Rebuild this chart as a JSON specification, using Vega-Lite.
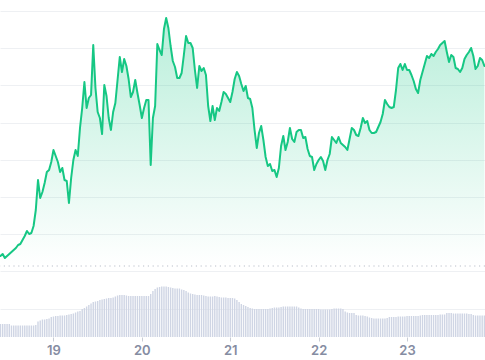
{
  "$schema": "https://vega.github.io/schema/vega-lite/v6.json",
  "width": 485,
  "height": 337,
  "padding": {"left": 0, "top": 0, "right": 0, "bottom": 23},
  "autosize": {"type": "none"},
  "background": "#ffffff",
  "config": {
    "view": {"stroke": null},
    "axisX": {
      "domain": false, "grid": false,
      "tickColor": "#c8ccd4", "tickSize": 4,
      "labelFont": "Inter", "labelFontSize": 13, "labelFontWeight": 600,
      "labelColor": "#858ca2", "labelPadding": 3
    },
    "axisY": {
      "labels": false, "ticks": false, "domain": false,
      "grid": true, "gridColor": "#eef0f3", "gridWidth": 1
    }
  },
  "data": {"values": [
    {"t":18.4,"p":81,"v":13},{"t":18.425,"p":83,"v":13},{"t":18.45,"p":79,"v":13},{"t":18.475,"p":81,"v":13},
    {"t":18.5,"p":83,"v":13},{"t":18.525,"p":85,"v":11.5},{"t":18.55,"p":87,"v":11.5},{"t":18.575,"p":89,"v":11.5},
    {"t":18.6,"p":92,"v":11.5},{"t":18.625,"p":93,"v":11.5},{"t":18.65,"p":97,"v":11.5},{"t":18.675,"p":101,"v":11.5},
    {"t":18.7,"p":106,"v":11.5},{"t":18.725,"p":103,"v":11.5},{"t":18.75,"p":104,"v":11.5},{"t":18.775,"p":111,"v":11.5},
    {"t":18.8,"p":127,"v":12},{"t":18.825,"p":157,"v":15.5},{"t":18.85,"p":139,"v":16.5},{"t":18.875,"p":145,"v":17.5},
    {"t":18.9,"p":154,"v":17.5},{"t":18.925,"p":165,"v":18},{"t":18.95,"p":167,"v":18.5},{"t":18.975,"p":175,"v":20},
    {"t":19.0,"p":187,"v":20.5},{"t":19.025,"p":181,"v":21},{"t":19.05,"p":175,"v":21},{"t":19.075,"p":165,"v":21.5},
    {"t":19.1,"p":169,"v":21.5},{"t":19.125,"p":157,"v":21.5},{"t":19.15,"p":156,"v":22},{"t":19.175,"p":134,"v":22.5},
    {"t":19.2,"p":159,"v":23},{"t":19.225,"p":177,"v":23.5},{"t":19.25,"p":187,"v":24.5},{"t":19.275,"p":181,"v":25.5},
    {"t":19.3,"p":209,"v":26},{"t":19.325,"p":229,"v":28},{"t":19.35,"p":255,"v":29},{"t":19.375,"p":229,"v":30.5},
    {"t":19.4,"p":239,"v":32},{"t":19.425,"p":242,"v":33.5},{"t":19.45,"p":292,"v":35},{"t":19.475,"p":249,"v":35.5},
    {"t":19.5,"p":225,"v":36},{"t":19.525,"p":219,"v":37},{"t":19.55,"p":203,"v":37.5},{"t":19.575,"p":252,"v":38},
    {"t":19.6,"p":241,"v":38.5},{"t":19.625,"p":219,"v":39},{"t":19.65,"p":207,"v":39},{"t":19.675,"p":225,"v":39.5},
    {"t":19.7,"p":234,"v":40.5},{"t":19.725,"p":257,"v":41.5},{"t":19.75,"p":280,"v":42},{"t":19.775,"p":265,"v":42},
    {"t":19.8,"p":278,"v":42},{"t":19.825,"p":271,"v":41.5},{"t":19.85,"p":258,"v":41},{"t":19.875,"p":240,"v":41},
    {"t":19.9,"p":245,"v":41},{"t":19.925,"p":257,"v":41},{"t":19.95,"p":244,"v":41},{"t":19.975,"p":232,"v":41},
    {"t":20.0,"p":219,"v":41},{"t":20.025,"p":229,"v":41},{"t":20.05,"p":237,"v":41},{"t":20.075,"p":237,"v":41},
    {"t":20.1,"p":172,"v":43},{"t":20.125,"p":219,"v":46},{"t":20.15,"p":231,"v":48},{"t":20.175,"p":293,"v":49.5},
    {"t":20.2,"p":287,"v":50},{"t":20.225,"p":282,"v":50.5},{"t":20.25,"p":308,"v":50.5},{"t":20.275,"p":319,"v":50.5},
    {"t":20.3,"p":309,"v":50},{"t":20.325,"p":291,"v":49.5},{"t":20.35,"p":276,"v":49},{"t":20.375,"p":270,"v":48.5},
    {"t":20.4,"p":259,"v":48.5},{"t":20.425,"p":259,"v":48.5},{"t":20.45,"p":264,"v":47.5},{"t":20.475,"p":282,"v":47},
    {"t":20.5,"p":301,"v":46},{"t":20.525,"p":294,"v":44.5},{"t":20.55,"p":294,"v":43.5},{"t":20.575,"p":289,"v":43},
    {"t":20.6,"p":267,"v":42.5},{"t":20.625,"p":249,"v":42},{"t":20.65,"p":271,"v":42},{"t":20.675,"p":266,"v":42},
    {"t":20.7,"p":269,"v":41.5},{"t":20.725,"p":262,"v":41},{"t":20.75,"p":231,"v":40.5},{"t":20.775,"p":216,"v":40.5},
    {"t":20.8,"p":231,"v":40.5},{"t":20.825,"p":217,"v":41},{"t":20.85,"p":229,"v":40.5},{"t":20.875,"p":226,"v":40},
    {"t":20.9,"p":235,"v":39.5},{"t":20.925,"p":245,"v":39.5},{"t":20.95,"p":243,"v":39.5},{"t":20.975,"p":239,"v":39},
    {"t":21.0,"p":235,"v":39},{"t":21.025,"p":245,"v":39},{"t":21.05,"p":258,"v":38.5},{"t":21.075,"p":265,"v":37},
    {"t":21.1,"p":261,"v":35},{"t":21.125,"p":253,"v":33},{"t":21.15,"p":246,"v":32},{"t":21.175,"p":251,"v":31},
    {"t":21.2,"p":239,"v":30},{"t":21.225,"p":238,"v":29},{"t":21.25,"p":229,"v":28.5},{"t":21.275,"p":207,"v":28},
    {"t":21.3,"p":189,"v":28},{"t":21.325,"p":204,"v":28},{"t":21.35,"p":211,"v":28},{"t":21.375,"p":197,"v":28},
    {"t":21.4,"p":180,"v":28},{"t":21.425,"p":171,"v":28},{"t":21.45,"p":173,"v":28.5},{"t":21.475,"p":166,"v":29},
    {"t":21.5,"p":167,"v":29.5},{"t":21.525,"p":160,"v":29.5},{"t":21.55,"p":169,"v":29.5},{"t":21.575,"p":191,"v":30},
    {"t":21.6,"p":201,"v":30.5},{"t":21.625,"p":187,"v":30.5},{"t":21.65,"p":195,"v":30.5},{"t":21.675,"p":209,"v":30.5},
    {"t":21.7,"p":198,"v":30.5},{"t":21.725,"p":195,"v":30.5},{"t":21.75,"p":205,"v":30.5},{"t":21.775,"p":207,"v":29.5},
    {"t":21.8,"p":207,"v":28.5},{"t":21.825,"p":199,"v":28},{"t":21.85,"p":200,"v":28},{"t":21.875,"p":188,"v":28},
    {"t":21.9,"p":181,"v":28},{"t":21.925,"p":180,"v":28},{"t":21.95,"p":167,"v":28},{"t":21.975,"p":173,"v":28},
    {"t":22.0,"p":177,"v":28},{"t":22.025,"p":180,"v":27.5},{"t":22.05,"p":176,"v":27.5},{"t":22.075,"p":167,"v":27.5},
    {"t":22.1,"p":177,"v":27.5},{"t":22.125,"p":183,"v":27.5},{"t":22.15,"p":200,"v":28},{"t":22.175,"p":197,"v":28.5},
    {"t":22.2,"p":194,"v":28.5},{"t":22.225,"p":200,"v":28.5},{"t":22.25,"p":194,"v":28.5},{"t":22.275,"p":192,"v":28},
    {"t":22.3,"p":190,"v":25.5},{"t":22.325,"p":187,"v":24.5},{"t":22.35,"p":198,"v":24},{"t":22.375,"p":209,"v":24},
    {"t":22.4,"p":207,"v":24},{"t":22.425,"p":202,"v":22},{"t":22.45,"p":201,"v":21.5},{"t":22.475,"p":209,"v":21.5},
    {"t":22.5,"p":219,"v":21.5},{"t":22.525,"p":214,"v":21},{"t":22.55,"p":216,"v":20.5},{"t":22.575,"p":207,"v":19.5},
    {"t":22.6,"p":204,"v":19},{"t":22.625,"p":204,"v":18.5},{"t":22.65,"p":205,"v":18.5},{"t":22.675,"p":210,"v":18.5},
    {"t":22.7,"p":215,"v":18.5},{"t":22.725,"p":223,"v":18.5},{"t":22.75,"p":237,"v":18.5},{"t":22.775,"p":233,"v":19},
    {"t":22.8,"p":230,"v":20},{"t":22.825,"p":229,"v":20},{"t":22.85,"p":230,"v":20},{"t":22.875,"p":247,"v":20},
    {"t":22.9,"p":269,"v":20.5},{"t":22.925,"p":273,"v":20.5},{"t":22.95,"p":267,"v":20.5},{"t":22.975,"p":273,"v":20.5},
    {"t":23.0,"p":267,"v":21},{"t":23.025,"p":267,"v":21},{"t":23.05,"p":262,"v":21},{"t":23.075,"p":256,"v":21},
    {"t":23.1,"p":248,"v":21},{"t":23.125,"p":244,"v":21},{"t":23.15,"p":257,"v":21.5},{"t":23.175,"p":265,"v":22},
    {"t":23.2,"p":273,"v":22},{"t":23.225,"p":281,"v":22},{"t":23.25,"p":279,"v":22},{"t":23.275,"p":283,"v":22},
    {"t":23.3,"p":281,"v":22},{"t":23.325,"p":285,"v":22},{"t":23.35,"p":288,"v":22},{"t":23.375,"p":292,"v":22.5},
    {"t":23.4,"p":294,"v":22.5},{"t":23.425,"p":296,"v":22.5},{"t":23.45,"p":285,"v":24},{"t":23.475,"p":275,"v":24},
    {"t":23.5,"p":282,"v":24},{"t":23.525,"p":280,"v":23.5},{"t":23.55,"p":269,"v":23.5},{"t":23.575,"p":268,"v":23.5},
    {"t":23.6,"p":265,"v":23.5},{"t":23.625,"p":269,"v":23.5},{"t":23.65,"p":278,"v":23.5},{"t":23.675,"p":282,"v":23.5},
    {"t":23.7,"p":285,"v":23},{"t":23.725,"p":289,"v":23},{"t":23.75,"p":281,"v":22},{"t":23.775,"p":268,"v":21.5},
    {"t":23.8,"p":271,"v":21.5},{"t":23.825,"p":279,"v":21.5},{"t":23.85,"p":277,"v":21.5},{"t":23.875,"p":271,"v":21.5}
  ]},
  "layer": [
    {
      "layer": [
        {
          "mark": {
            "type": "area",
            "color": {
              "x1": 1, "y1": 1, "x2": 1, "y2": 0,
              "gradient": "linear",
              "stops": [
                {"offset": 0, "color": "rgba(22,199,132,0)"},
                {"offset": 1, "color": "rgba(22,199,132,0.3)"}
              ]
            }
          },
          "encoding": {
            "x": {
              "field": "t", "type": "quantitative", "title": null,
              "scale": {"domain": [18.395, 23.882], "nice": false, "zero": false, "padding": 0},
              "axis": {"values": [19, 20, 21, 22, 23], "format": "d"}
            },
            "y": {
              "field": "p", "type": "quantitative", "title": null,
              "scale": {"domain": [0, 337], "nice": false, "zero": true},
              "axis": {"values": [326, 288.8, 251.6, 214.4, 177.2, 140, 102.8, 65.6, 28.4]}
            },
            "y2": {"datum": 71}
          }
        },
        {
          "mark": {"type": "line", "color": "#16c784", "strokeWidth": 2, "strokeJoin": "round", "strokeCap": "round"},
          "encoding": {
            "x": {
              "field": "t", "type": "quantitative", "title": null,
              "scale": {"domain": [18.395, 23.882], "nice": false, "zero": false, "padding": 0},
              "axis": {"values": [19, 20, 21, 22, 23], "format": "d"}
            },
            "y": {
              "field": "p", "type": "quantitative", "title": null,
              "scale": {"domain": [0, 337], "nice": false, "zero": true},
              "axis": {"values": [326, 288.8, 251.6, 214.4, 177.2, 140, 102.8, 65.6, 28.4]}
            }
          }
        },
        {
          "data": {"values": [{}]},
          "mark": {"type": "rule", "color": "#b9bfc9", "strokeWidth": 1, "strokeDash": [1.2, 3.6]},
          "encoding": {
            "y": {
              "datum": 71, "type": "quantitative", "title": null,
              "scale": {"domain": [0, 337], "nice": false, "zero": true},
              "axis": {"values": [326, 288.8, 251.6, 214.4, 177.2, 140, 102.8, 65.6, 28.4]}
            }
          }
        }
      ]
    },
    {
      "mark": {"type": "bar", "width": 1.4, "color": "#cfd5e4"},
      "encoding": {
        "x": {
          "field": "t", "type": "quantitative", "title": null,
          "scale": {"domain": [18.395, 23.882], "nice": false, "zero": false, "padding": 0},
          "axis": {"values": [19, 20, 21, 22, 23], "format": "d"}
        },
        "y": {
          "field": "v", "type": "quantitative", "title": null, "axis": null,
          "scale": {"domain": [0, 337], "nice": false}
        }
      }
    }
  ],
  "resolve": {"scale": {"y": "independent"}}
}
